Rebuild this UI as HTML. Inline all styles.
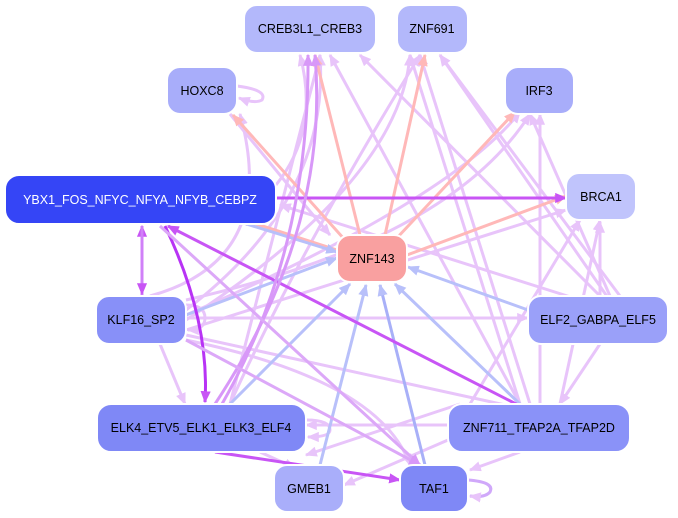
<!DOCTYPE html>
<html><head><meta charset="utf-8"><style>
html,body{margin:0;padding:0;background:#fff;}
svg{display:block}
text{font-family:"Liberation Sans",sans-serif;font-size:12.5px;text-anchor:middle;dominant-baseline:central}
</style></head><body>
<svg width="678" height="518" viewBox="0 0 678 518" xmlns="http://www.w3.org/2000/svg">
<defs>
<marker id="mp" markerWidth="4" markerHeight="3.4" refX="3.6" refY="1.7" orient="auto" markerUnits="strokeWidth"><path d="M0,0 L4,1.7 L0,3.4z" fill="#e8c4fa"/></marker>
<marker id="mk" markerWidth="4" markerHeight="3.4" refX="3.6" refY="1.7" orient="auto" markerUnits="strokeWidth"><path d="M0,0 L4,1.7 L0,3.4z" fill="#ffb8b8"/></marker>
<marker id="mb" markerWidth="4" markerHeight="3.4" refX="3.6" refY="1.7" orient="auto" markerUnits="strokeWidth"><path d="M0,0 L4,1.7 L0,3.4z" fill="#b8c0fa"/></marker>
<marker id="mv" markerWidth="4" markerHeight="3.4" refX="3.6" refY="1.7" orient="auto" markerUnits="strokeWidth"><path d="M0,0 L4,1.7 L0,3.4z" fill="#c855f5"/></marker>
<marker id="mm" markerWidth="4" markerHeight="3.4" refX="3.6" refY="1.7" orient="auto" markerUnits="strokeWidth"><path d="M0,0 L4,1.7 L0,3.4z" fill="#d898f8"/></marker>
</defs>
<g fill="none" stroke-width="3">
<g stroke="#e8c4fa" marker-end="url(#mp)">
<path d="M520,404 L330,55"/><path d="M530,404 L420,55"/><path d="M540,404 L540,114"/>
<path d="M560,404 L600,220"/><path d="M600,296 L360,55"/><path d="M610,296 L530,114"/>
<path d="M600,296 L600,222"/><path d="M620,296 L440,55"/><path d="M186,320 Q400,180 410,55"/>
<path d="M186,310 Q330,200 320,55"/><path d="M186,315 Q450,200 520,112"/><path d="M186,330 L566,210"/>
<path d="M186,318 L528,318"/><path d="M186,335 L528,410"/><path d="M186,340 Q380,380 410,465"/>
<path d="M448,425 L306,425"/><path d="M448,440 L344,485"/><path d="M460,404 L306,455"/>
<path d="M600,344 L560,404"/><path d="M520,452 L470,470"/><path d="M160,344 L185,404"/>
<path d="M260,452 L295,468"/><path d="M580,300 L280,205"/><path d="M230,404 Q300,250 420,55"/>
<path d="M520,404 L410,55"/><path d="M276,185 Q320,130 300,55"/><path d="M230,404 L320,55"/>
<path d="M470,404 L580,220"/><path d="M150,296 Q280,260 240,114"/><path d="M230,114 Q300,200 330,235"/>
<path d="M186,300 Q450,240 530,114"/><path d="M640,344 L440,55"/>
</g>
<path d="M237,86 Q268,90 262,100 Q255,104 239,98" stroke="#e8c4fa" marker-end="url(#mp)"/>
<path d="M468,480 Q495,482 490,492 Q485,498 470,496" stroke="#d0a8fa" marker-end="url(#mp)"/>
<path d="M306,420 Q330,420 330,430 Q330,437 308,437" stroke="#e8c4fa" marker-end="url(#mp)"/>
<path d="M186,305 Q205,305 205,318 Q205,330 188,330" stroke="#e8c4fa" marker-end="url(#mp)"/>
<g stroke="#ffb8b8" marker-end="url(#mk)">
<path d="M360,235 L315,55"/><path d="M385,235 L425,55"/><path d="M345,240 L233,115"/>
<path d="M395,240 L515,112"/><path d="M407,255 L566,196"/><path d="M337,250 L238,218"/>
</g>
<g stroke="#b8c0fa" marker-end="url(#mb)">
<path d="M186,315 L337,258"/><path d="M230,404 L350,284"/><path d="M320,465 L366,285"/>
<path d="M522,406 L395,284"/><path d="M528,310 L408,267"/><path d="M240,222 L337,252"/>
</g>
<path d="M425,465 L380,285" stroke="#a8b0f8" marker-end="url(#mb)"/>
<path d="M276,198 L566,198" stroke="#c855f5" marker-end="url(#mv)"/>
<path d="M142,296 L142,226" stroke="#d080f8" marker-end="url(#mv)"/>
<path d="M142,226 L142,294" stroke="#d080f8" marker-end="url(#mv)"/>
<path d="M165,226 Q210,320 205,402" stroke="#b833f5" marker-end="url(#mv)"/>
<path d="M520,406 L168,226" stroke="#c855f5" marker-end="url(#mv)"/>
<path d="M215,452 L400,480" stroke="#c855f5" marker-end="url(#mv)"/>
<path d="M215,404 Q330,230 315,55" stroke="#d898f8" marker-end="url(#mm)"/>
<path d="M222,404 Q310,250 308,55" stroke="#d898f8" marker-end="url(#mm)"/>
<path d="M160,226 L420,465" stroke="#dca8f8" marker-end="url(#mm)"/>
<path d="M186,340 L420,465" stroke="#dca8f8" marker-end="url(#mm)"/>
</g>
<g stroke="#fff" stroke-width="2">
<rect x="244" y="5" width="132" height="48" rx="13" fill="#b3b8fb"/>
<rect x="397" y="5" width="71" height="48" rx="13" fill="#b3b8fb"/>
<rect x="167" y="67" width="70" height="47" rx="13" fill="#a8adfa"/>
<rect x="505" y="67" width="69" height="47" rx="13" fill="#a8adfa"/>
<rect x="5" y="175" width="271" height="49" rx="14" fill="#3545f6"/>
<rect x="566" y="173" width="70" height="47" rx="13" fill="#c0c4fc"/>
<rect x="337" y="235" width="70" height="47" rx="13" fill="#f9a0a0"/>
<rect x="96" y="296" width="90" height="48" rx="13" fill="#8890f8"/>
<rect x="528" y="296" width="140" height="48" rx="13" fill="#9aa0f9"/>
<rect x="97" y="404" width="209" height="48" rx="14" fill="#7f88f6"/>
<rect x="448" y="404" width="182" height="48" rx="14" fill="#8a92f8"/>
<rect x="274" y="465" width="70" height="47" rx="13" fill="#a9aefa"/>
<rect x="400" y="465" width="68" height="47" rx="13" fill="#7f88f6"/>
</g>
<g fill="#000">
<text x="310" y="29">CREB3L1_CREB3</text>
<text x="432" y="29">ZNF691</text>
<text x="202" y="91">HOXC8</text>
<text x="539" y="91">IRF3</text>
<text x="140" y="200" fill="#fff">YBX1_FOS_NFYC_NFYA_NFYB_CEBPZ</text>
<text x="601" y="197">BRCA1</text>
<text x="372" y="259">ZNF143</text>
<text x="141" y="320">KLF16_SP2</text>
<text x="598" y="320">ELF2_GABPA_ELF5</text>
<text x="201" y="428">ELK4_ETV5_ELK1_ELK3_ELF4</text>
<text x="539" y="428">ZNF711_TFAP2A_TFAP2D</text>
<text x="309" y="489">GMEB1</text>
<text x="434" y="489">TAF1</text>
</g>
</svg>
</body></html>
